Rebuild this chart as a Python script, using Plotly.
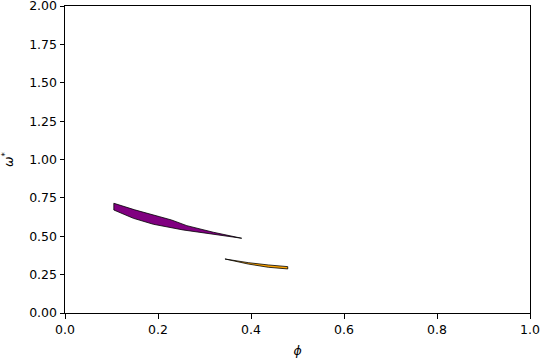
import plotly.graph_objects as go

# Purple region boundary (phi, omega*)
purple_upper_x = [0.105, 0.150, 0.204, 0.229, 0.262, 0.319, 0.380]
purple_upper_y = [0.715, 0.672, 0.627, 0.606, 0.569, 0.526, 0.487]
purple_lower_x = [0.105, 0.147, 0.190, 0.254, 0.319, 0.380]
purple_lower_y = [0.671, 0.617, 0.578, 0.541, 0.513, 0.487]

# Orange region boundary
orange_upper_x = [0.344, 0.394, 0.437, 0.479]
orange_upper_y = [0.352, 0.328, 0.313, 0.302]
orange_lower_x = [0.344, 0.394, 0.437, 0.479]
orange_lower_y = [0.350, 0.319, 0.298, 0.287]

x_ticks = [0.0, 0.2, 0.4, 0.6, 0.8, 1.0]
y_ticks = [0.0, 0.25, 0.5, 0.75, 1.0, 1.25, 1.5, 1.75, 2.0]


def closed(ux, uy, lx, ly):
    xs = list(ux) + list(reversed(lx))
    ys = list(uy) + list(reversed(ly))
    return xs + [xs[0]], ys + [ys[0]]


fig = go.Figure()
px_, py_ = closed(purple_upper_x, purple_upper_y, purple_lower_x, purple_lower_y)
fig.add_trace(go.Scatter(x=px_, y=py_, fill="toself", fillcolor="#800080",
                         mode="lines", line=dict(color="black", width=0.8),
                         showlegend=False, hoverinfo="skip"))
ox, oy = closed(orange_upper_x, orange_upper_y, orange_lower_x, orange_lower_y)
fig.add_trace(go.Scatter(x=ox, y=oy, fill="toself", fillcolor="#FFA500",
                         mode="lines", line=dict(color="black", width=0.8),
                         showlegend=False, hoverinfo="skip"))

axis_common = dict(showgrid=False, zeroline=False, showline=True, linecolor="black",
                   linewidth=1, mirror=True, ticks="outside", ticklen=4.5,
                   tickcolor="black", tickwidth=1, automargin=False,
                   ticklabeloverflow="allow",
                   tickfont=dict(size=12.5, color="black"))

fig.update_layout(
    width=540, height=360,
    margin=dict(l=65, r=10, t=6, b=47, autoexpand=False),
    paper_bgcolor="white", plot_bgcolor="white",
    font=dict(family="DejaVu Sans", size=12.5, color="black"),
    xaxis=dict(range=[0, 1], tickvals=x_ticks, ticktext=[f"{v:.1f}" for v in x_ticks],
               title=dict(text="<i>ϕ</i>", standoff=10, font=dict(size=12.5)), **axis_common),
    yaxis=dict(range=[0, 2], tickvals=y_ticks, ticktext=[f"{v:.2f}" for v in y_ticks],
               title=dict(text="<i>ω</i><sup>*</sup>", standoff=12, font=dict(size=12.5)), **axis_common),
)

fig.write_html("out.html",
               config={"displayModeBar": False, "staticPlot": True},
               post_script="document.body.style.margin='0';document.body.style.overflow='hidden';")
